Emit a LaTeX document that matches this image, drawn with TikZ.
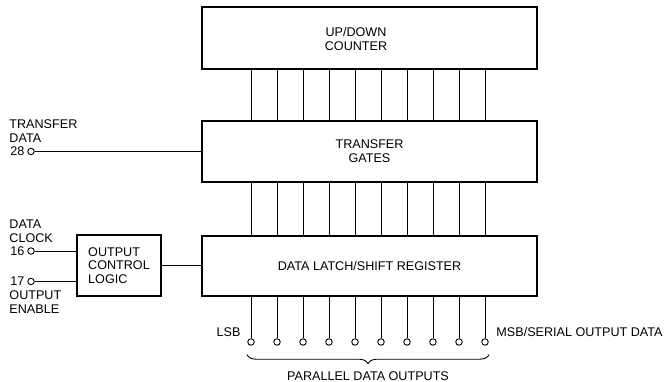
\documentclass[tikz,border=0pt]{standalone}
\usepackage{fontspec}
\setmainfont{Liberation Sans}
\usetikzlibrary{decorations.pathreplacing}

\tikzset{
  block/.style={draw, line width=1.3pt, inner sep=0pt},
  pin/.style={draw, circle, line width=0.9pt, inner sep=0pt, minimum size=6.5pt},
  caption/.style={inner sep=0pt, align=left},
  pinlabel/.style={inner sep=0pt, label distance=2.5pt},
}

\begin{document}
\begin{tikzpicture}[x=1pt, y=-1pt, line width=0.9pt, font=\fontsize{12.6}{13.7}\selectfont]
  \useasboundingbox (0,0) rectangle (672,382);

  \node[block, minimum width=335pt, minimum height=62pt] (counter) at (369.5,38) {};
  \node[caption, align=center] (countertext) at (356,39) {UP/DOWN\\COUNTER};
  \node[block, minimum width=335pt, minimum height=61pt, align=center] (gates) at (369.5,151.5) {TRANSFER\\GATES};
  \node[block, minimum width=335pt, minimum height=60pt] (latch) at (369.5,266) {DATA LATCH/SHIFT REGISTER};
  \node[block, minimum width=84pt, minimum height=61pt, align=left] (ocl) at (119,265.5) {OUTPUT\\CONTROL\\LOGIC};

  % data bus
  \foreach \i in {1,...,10} {
    \node[pin] (o\i) at ({225+26*\i},342) {};
    \draw (counter.south -| o\i) -- (gates.north -| o\i);
    \draw (gates.south -| o\i) -- (latch.north -| o\i);
    \draw (latch.south -| o\i) -- (o\i);
  }

  \node[pin, label={[pinlabel]left:28}] (p28) at (31,151.5) {};
  \node[pin, label={[pinlabel]left:16}] (p16) at (31,251) {};
  \node[pin, label={[pinlabel]left:17}] (p17) at (31,281.5) {};
  \node[caption, anchor=west] (tdtext) at (9,131) {TRANSFER\\DATA};
  \node[caption, anchor=west] (dctext) at (9,231) {DATA\\CLOCK};
  \node[caption, anchor=west] (oetext) at (9,302) {OUTPUT\\ENABLE};

  \draw (p28) -- (p28 -| gates.west);
  \draw (p16) -- (p16 -| ocl.west);
  \draw (p17) -- (p17 -| ocl.west);
  \draw (ocl.east) -- (ocl.east -| latch.west);

  \node[caption, anchor=east] (lsb) at (241,332) {LSB};
  \node[caption, anchor=west] (msb) at (496,332) {MSB/SERIAL OUTPUT DATA};

  \draw[decorate, decoration={brace, mirror, amplitude=9pt}] ([xshift=-4pt, yshift=-9pt]o1.south) -- ([xshift=4pt, yshift=-9pt]o10.south);
  \node[caption] (pdo) at (368,376) {PARALLEL DATA OUTPUTS};
\end{tikzpicture}
\end{document}
